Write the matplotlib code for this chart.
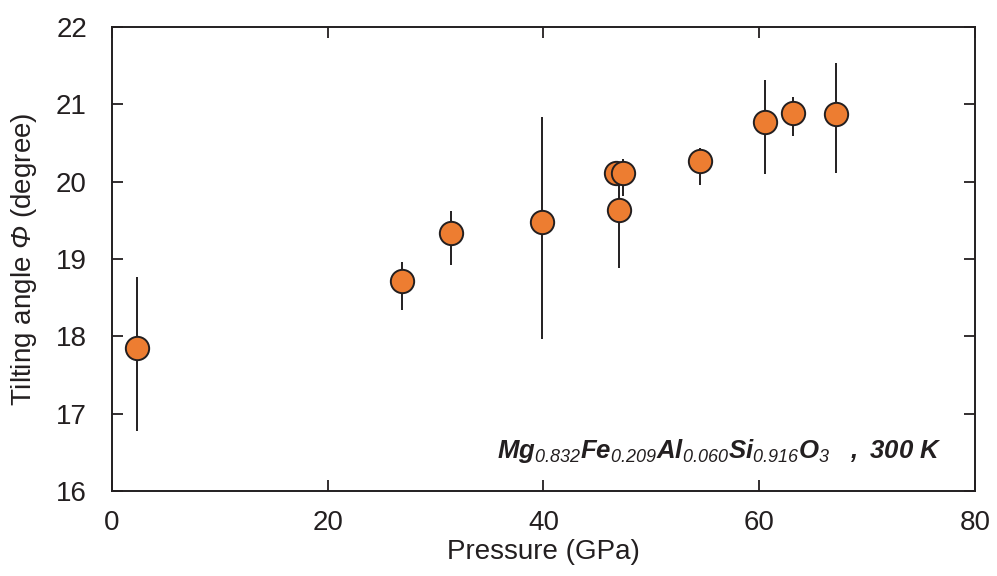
import matplotlib
matplotlib.use("Agg")
import matplotlib.pyplot as plt

plt.rcParams['font.family'] = ['Liberation Sans', 'DejaVu Sans']
plt.rcParams['mathtext.fontset'] = 'custom'
plt.rcParams['mathtext.rm'] = 'Liberation Sans:italic'
plt.rcParams['mathtext.it'] = 'Liberation Sans:italic'
plt.rcParams['mathtext.bf'] = 'Liberation Sans:bold:italic'

# data
pressure = [2.3, 26.9, 31.4, 39.9, 46.7, 47.0, 47.4, 54.5, 60.5, 63.15, 67.15]
angle = [17.85, 18.71, 19.33, 19.48, 20.11, 19.63, 20.11, 20.27, 20.77, 20.89, 20.88]
err_low = [1.08, 0.37, 0.41, 1.52, 0.15, 0.75, 0.30, 0.31, 0.67, 0.30, 0.77]
err_high = [0.92, 0.25, 0.29, 1.36, 0.15, 0.60, 0.18, 0.16, 0.55, 0.21, 0.66]

fig = plt.figure(figsize=(9.97, 5.76), dpi=100)
ax = fig.add_axes([0.1123, 0.1476, 0.8656, 0.8056])

ax.errorbar(pressure, angle, yerr=[err_low, err_high], fmt='none',
            ecolor='#231f20', elinewidth=1.4, capsize=0, zorder=2)
for p, a in zip(pressure, angle):
    ax.plot(p, a, 'o', ms=16.8, mfc='#ED7D31', mec='#231f20', mew=1.4, zorder=3)

ax.set_xlim(0, 80)
ax.set_ylim(16, 22)
ax.set_xticks([0, 20, 40, 60, 80])
ax.set_yticks([16, 17, 18, 19, 20, 21, 22])
ax.tick_params(direction='in', length=8, width=1.3, labelsize=20, colors='#231f20',
               top=True, right=True)
ax.tick_params(axis='y', pad=18)
ax.tick_params(axis='x', pad=14)
for s in ax.spines.values():
    s.set_linewidth(1.4)
    s.set_color('#231f20')

ax.set_xlabel('Pressure (GPa)', fontsize=20, color='#231f20', labelpad=2)
ax.set_ylabel(r'Tilting angle $\Phi$ (degree)', fontsize=20, color='#231f20', labelpad=12)

ax.text(35.7, 16.43,
        r'$\mathbf{Mg}_{0.832}\mathbf{Fe}_{0.209}\mathbf{Al}_{0.060}'
        r'\mathbf{Si}_{0.916}\mathbf{O}_{3}\ \ \ \mathbf{,\ 300\ K}$',
        fontsize=18.5, color='#231f20', ha='left', va='baseline')

fig.savefig('out.png', dpi=100)
